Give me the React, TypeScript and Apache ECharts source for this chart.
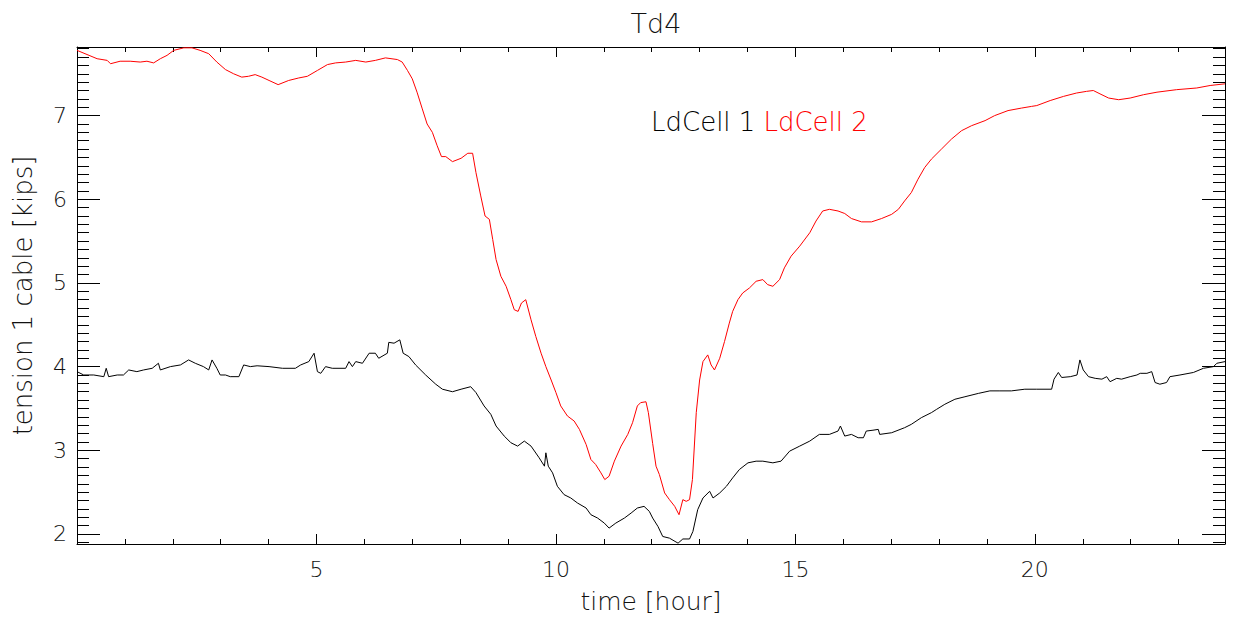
import React, { useEffect, useRef } from "react";
import * as echarts from "echarts";

const chartTitle = "Td4";
const xAxisName = "time [hour]";
const yAxisName = "tension 1 cable [kips]";
const seriesNames = ["LdCell 1", "LdCell 2"];
const xRange = [0, 23.97];
const yRange = [1.88, 7.82];

// LdCell 2 (red)
const redHours = [
  0.0, 0.42, 0.63, 0.7, 0.9, 1.11, 1.32, 1.46, 1.6, 1.74, 1.88, 2.02, 2.23, 2.4, 2.57, 2.75, 2.92, 3.1, 3.27, 3.44, 3.58, 3.72, 3.86,
  4.01, 4.2, 4.42, 4.63, 4.81, 5.02, 5.23, 5.4, 5.61, 5.82, 6.03, 6.23, 6.44, 6.69, 6.79, 6.9, 7.0, 7.1, 7.21, 7.31, 7.42, 7.52, 7.61, 7.7, 7.84,
  8.02, 8.16, 8.26, 8.33, 8.43, 8.52, 8.61, 8.68, 8.75, 8.85, 8.96, 9.06, 9.13, 9.21, 9.28, 9.37, 9.48, 9.58, 9.69, 9.79, 9.9, 10.0, 10.1,
  10.24, 10.38, 10.49, 10.63, 10.73, 10.83, 10.94, 11.02, 11.11, 11.22, 11.36, 11.5, 11.6, 11.7, 11.77, 11.88, 11.93,
  12.02, 12.09, 12.16, 12.27, 12.37, 12.48, 12.57, 12.65, 12.72, 12.79, 12.85, 12.93, 13.0, 13.07, 13.17, 13.24, 13.31, 13.42, 13.52,
  13.62, 13.69, 13.8, 13.9, 14.04, 14.18, 14.32, 14.42, 14.53, 14.67, 14.77, 14.91, 15.09, 15.3, 15.43, 15.57, 15.71, 15.89,
  16.03, 16.17, 16.38, 16.59, 16.8, 17.01, 17.15, 17.28, 17.42, 17.56, 17.7, 17.84, 18.05, 18.26, 18.47, 18.68, 18.96, 19.16, 19.44,
  19.72, 19.93, 20.04, 20.32, 20.6, 20.87, 21.08, 21.22, 21.36, 21.54, 21.75, 21.99, 22.27, 22.55, 22.96, 23.38, 23.66, 23.97,
];
const redValues = [
  7.78, 7.68, 7.66, 7.62, 7.65, 7.65, 7.64, 7.65, 7.63, 7.68, 7.72, 7.78, 7.81, 7.81, 7.78, 7.74, 7.64, 7.55, 7.5, 7.46, 7.47, 7.49, 7.46,
  7.42, 7.37, 7.42, 7.45, 7.47, 7.54, 7.61, 7.63, 7.64, 7.66, 7.64, 7.66, 7.69, 7.67, 7.64, 7.54, 7.44, 7.28, 7.08, 6.9, 6.8, 6.64, 6.51, 6.51, 6.45,
  6.49, 6.55, 6.55, 6.32, 6.04, 5.8, 5.76, 5.52, 5.28, 5.08, 4.96, 4.8, 4.68, 4.66, 4.76, 4.8, 4.56, 4.36, 4.16, 4.0, 3.84, 3.69, 3.53,
  3.41, 3.35, 3.25, 3.07, 2.89, 2.83, 2.73, 2.65, 2.69, 2.87, 3.05, 3.19, 3.33, 3.53, 3.57, 3.58, 3.45,
  3.08, 2.81, 2.71, 2.49, 2.41, 2.33, 2.23, 2.41, 2.39, 2.41, 2.65, 3.45, 3.84, 4.06, 4.14, 4.02, 3.96, 4.1, 4.3,
  4.52, 4.66, 4.8, 4.88, 4.94, 5.02, 5.04, 4.98, 4.96, 5.04, 5.18, 5.32, 5.44, 5.6, 5.74, 5.86, 5.88, 5.86,
  5.83, 5.77, 5.73, 5.73, 5.77, 5.82, 5.88, 5.98, 6.08, 6.24, 6.38, 6.48, 6.6, 6.72, 6.82, 6.88, 6.94, 7.0, 7.06,
  7.09, 7.11, 7.12, 7.18, 7.23, 7.27, 7.29, 7.3, 7.26, 7.21, 7.19, 7.21, 7.25, 7.28, 7.31, 7.33, 7.36, 7.38,
];

// LdCell 1 (black)
const blackHours = [
  0.0, 0.14, 0.35, 0.56, 0.61, 0.66, 0.84, 0.97, 1.08, 1.25, 1.39, 1.57, 1.7, 1.74, 1.95, 2.16, 2.33, 2.47, 2.64, 2.75, 2.82, 2.92, 2.99,
  3.1, 3.2, 3.38, 3.48, 3.62, 3.76,
  4.01, 4.29, 4.56, 4.67, 4.84, 4.95, 5.02, 5.09, 5.19, 5.33, 5.61, 5.68, 5.75, 5.82, 5.96, 6.1, 6.23, 6.3, 6.48, 6.51, 6.62, 6.74, 6.81,
  6.93, 7.07, 7.28, 7.49, 7.63, 7.84,
  8.02, 8.22, 8.33, 8.5, 8.64, 8.75, 8.92, 9.06, 9.2, 9.34, 9.48, 9.65, 9.76, 9.79, 9.84, 9.93, 10.03, 10.17, 10.31, 10.45, 10.63, 10.73,
  10.87, 11.01, 11.11, 11.25, 11.43, 11.57, 11.7, 11.84, 11.95,
  12.02, 12.13, 12.23, 12.37, 12.55, 12.65, 12.79, 12.86, 12.96, 13.07, 13.21, 13.28, 13.42, 13.56, 13.69, 13.83, 14.01, 14.18, 14.32,
  14.53, 14.7, 14.88, 15.09, 15.3, 15.5, 15.71, 15.89, 15.94,
  16.03, 16.17, 16.31, 16.42, 16.48, 16.62, 16.73, 16.76, 17.01, 17.28, 17.42, 17.63, 17.84, 17.95, 18.12, 18.33, 18.54, 18.82, 19.06,
  19.27, 19.51, 19.79, 20.04, 20.35, 20.4, 20.49, 20.56, 20.74, 20.88, 20.94, 21.01, 21.12, 21.26, 21.4, 21.5, 21.57, 21.71, 21.81,
  21.99, 22.13, 22.2, 22.34, 22.44, 22.51, 22.61, 22.75, 22.82, 23.03, 23.31, 23.52, 23.73, 23.8, 23.97,
];
const blackValues = [
  3.94, 3.9, 3.9, 3.88, 3.98, 3.88, 3.9, 3.9, 3.96, 3.94, 3.96, 3.98, 4.04, 3.96, 4.0, 4.02, 4.08, 4.04, 4.0, 3.96, 4.08, 3.98, 3.9,
  3.9, 3.88, 3.88, 4.02, 4.0, 4.01,
  4.0, 3.98, 3.98, 4.02, 4.06, 4.16, 3.94, 3.92, 4.0, 3.98, 3.98, 4.06, 4.0, 4.06, 4.04, 4.16, 4.16, 4.1, 4.16, 4.29, 4.28, 4.32, 4.16,
  4.12, 4.02, 3.9, 3.79, 3.73, 3.7,
  3.73, 3.76, 3.69, 3.53, 3.43, 3.29, 3.17, 3.09, 3.05, 3.11, 3.05, 2.91, 2.81, 2.97, 2.81, 2.73, 2.57, 2.47, 2.43, 2.37, 2.31, 2.23,
  2.19, 2.13, 2.07, 2.13, 2.19, 2.25, 2.31, 2.33, 2.27,
  2.19, 2.09, 1.97, 1.95, 1.89, 1.94, 1.94, 2.03, 2.29, 2.43, 2.51, 2.43, 2.49, 2.57, 2.67, 2.77, 2.85, 2.87, 2.87,
  2.85, 2.87, 2.99, 3.05, 3.11, 3.19, 3.19, 3.23, 3.29,
  3.17, 3.19, 3.15, 3.15, 3.23, 3.24, 3.25, 3.19, 3.21, 3.27, 3.31, 3.39, 3.45, 3.49, 3.55, 3.61, 3.64, 3.68, 3.71,
  3.71, 3.71, 3.73, 3.73, 3.73, 3.85, 3.93, 3.87, 3.88, 3.9, 4.08, 3.96, 3.88, 3.86, 3.85, 3.88, 3.82, 3.86, 3.85,
  3.88, 3.9, 3.92, 3.92, 3.94, 3.81, 3.79, 3.81, 3.88, 3.9, 3.93, 3.98, 4.0, 4.04, 4.06,
];

const FONT = "DejaVu Sans";
const TXT = "#111";

const pairs = (xs: number[], ys: number[]) => xs.map((x, i) => [x, ys[i]]);

const isInt = (v: number) => Math.abs(v - Math.round(v)) < 1e-6;

export default function App() {
  const ref = useRef<HTMLDivElement>(null);
  useEffect(() => {
    if (!ref.current) return;
    const chart = echarts.init(ref.current, null, { renderer: "svg" });

    const xBase = (pos: "bottom" | "top", labels: boolean) => ({
      type: "value",
      position: pos,
      min: xRange[0],
      max: xRange[1],
      splitNumber: 5,
      name: labels ? xAxisName : "",
      nameLocation: "middle",
      nameGap: 45,
      nameTextStyle: { fontFamily: FONT, fontSize: 25, fontWeight: 200, color: TXT },
      axisLine: { show: true, onZero: false, lineStyle: { color: "#000", width: 1 } },
      axisTick: { show: true, inside: true, length: 10, lineStyle: { color: "#000", width: 1 } },
      minorTick: { show: true, splitNumber: 5, length: 5, lineStyle: { color: "#000", width: 1 } },
      splitLine: { show: false },
      minorSplitLine: { show: false },
      axisLabel: {
        show: labels,
        margin: 14,
        fontFamily: FONT,
        fontSize: 22,
        fontWeight: 200,
        color: TXT,
        formatter: (v: number) => (isInt(v) && v > 0 && Math.round(v) % 5 === 0 ? String(Math.round(v)) : ""),
      },
    });

    const yBase = (pos: "left" | "right", labels: boolean) => ({
      type: "value",
      position: pos,
      min: yRange[0],
      max: yRange[1],
      splitNumber: 5,
      name: labels ? yAxisName : "",
      nameLocation: "middle",
      nameGap: 41,
      nameTextStyle: { fontFamily: FONT, fontSize: 26, fontWeight: 200, color: TXT },
      axisLine: { show: true, onZero: false, lineStyle: { color: "#000", width: 1 } },
      axisTick: { show: true, inside: true, length: 23, lineStyle: { color: "#000", width: 1 } },
      minorTick: { show: true, splitNumber: 10, length: 12, lineStyle: { color: "#000", width: 1 } },
      splitLine: { show: false },
      minorSplitLine: { show: false },
      axisLabel: {
        show: labels,
        margin: 10,
        fontFamily: FONT,
        fontSize: 22,
        fontWeight: 200,
        color: TXT,
        formatter: (v: number) => (isInt(v) ? String(Math.round(v)) : ""),
      },
    });

    chart.setOption({
      animation: false,
      backgroundColor: "#fff",
      title: {
        text: chartTitle,
        left: 651,
        top: 5,
        textAlign: "center",
        textStyle: { fontFamily: FONT, fontSize: 27, fontWeight: 200, color: TXT },
      },
      legend: {
        left: 641,
        top: 104,
        icon: "none",
        itemWidth: 0,
        itemGap: 3,
        selectedMode: false,
        textStyle: { fontFamily: FONT, fontSize: 26, fontWeight: 200 },
        data: [
          { name: seriesNames[0], textStyle: { color: "#000" } },
          { name: seriesNames[1], textStyle: { color: "#ff0000" } },
        ],
      },
      grid: { left: 77, right: 9, top: 47, bottom: 82, containLabel: false },
      xAxis: [xBase("bottom", true), xBase("top", false)],
      yAxis: [yBase("left", true), yBase("right", false)],
      series: [
        {
          name: seriesNames[0],
          type: "line",
          xAxisIndex: 0,
          yAxisIndex: 0,
          showSymbol: false,
          symbol: "none",
          color: "#000",
          lineStyle: { color: "#000", width: 1 },
          data: pairs(blackHours, blackValues),
        },
        {
          name: seriesNames[1],
          type: "line",
          xAxisIndex: 0,
          yAxisIndex: 0,
          showSymbol: false,
          symbol: "none",
          color: "#ff0000",
          lineStyle: { color: "#ff0000", width: 1 },
          data: pairs(redHours, redValues),
        },
      ],
    });
    return () => chart.dispose();
  }, []);

  return (
    <div
      ref={ref}
      style={{ position: "fixed", left: 0, top: 0, width: 1234, height: 626, background: "#fff" }}
    />
  );
}
